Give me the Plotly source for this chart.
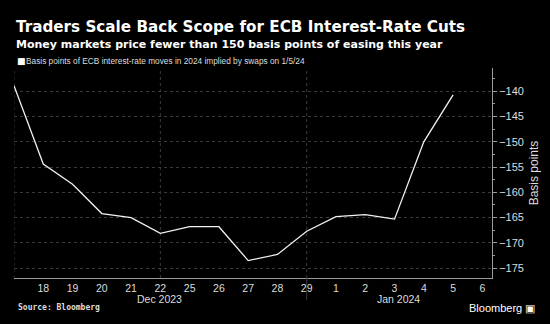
import plotly.graph_objects as go

dates = ["Dec 15", "Dec 18", "Dec 19", "Dec 20", "Dec 21", "Dec 22", "Dec 25", "Dec 26",
         "Dec 27", "Dec 28", "Dec 29", "Jan 1", "Jan 2", "Jan 3", "Jan 4", "Jan 5"]
values = [-138.9, -154.4, -158.4, -164.2, -165.0, -168.1, -166.8, -166.8,
          -173.5, -172.3, -167.7, -164.8, -164.4, -165.3, -150.0, -140.7]
tick_labels = ["18", "19", "20", "21", "22", "25", "26", "27", "28", "29", "1", "2", "3", "4", "5", "6"]
y_ticks = [-140, -145, -150, -155, -160, -165, -170, -175]

x_idx = list(range(len(dates)))
tick_pos = list(range(1, len(tick_labels) + 1))

fig = go.Figure()
fig.add_trace(go.Scatter(x=x_idx, y=values, mode="lines",
                         line=dict(color="#f2f2f2", width=1.3),
                         hoverinfo="skip", showlegend=False))

# vertical weekly gridlines
for xv in [0, 5, 10]:
    fig.add_shape(type="line", xref="x", yref="paper", x0=xv, x1=xv, y0=0, y1=1,
                  line=dict(color="#3a3a3a", width=1, dash="dot"), layer="below")
# month separator
fig.add_shape(type="line", xref="x", yref="paper", x0=10, x1=10, y0=0, y1=-0.105,
              line=dict(color="#3a3a3a", width=1))

fig.update_layout(
    width=550, height=324,
    margin=dict(l=14, r=48, t=68, b=46),
    paper_bgcolor="black", plot_bgcolor="black",
    font=dict(family="Liberation Sans Narrow, Liberation Sans, sans-serif", color="#dddddd", size=11),
    xaxis=dict(range=[0, 16.33], tickvals=tick_pos, ticktext=tick_labels,
               showgrid=False, zeroline=False, showline=True, linecolor="#9a9a9a", linewidth=1,
               ticks="", tickfont=dict(size=10.5, color="#dddddd"), fixedrange=True),
    yaxis=dict(range=[-176.95, -135.4], side="right", tickvals=y_ticks,
               showgrid=True, gridcolor="#3a3a3a", griddash="dot", gridwidth=1,
               zeroline=False, showline=True, linecolor="#9a9a9a", linewidth=1,
               ticks="outside", ticklen=4, tickcolor="#9a9a9a",
               minor=dict(dtick=2.5, ticks="outside", ticklen=2, tickcolor="#9a9a9a", showgrid=False),
               tickfont=dict(size=11, color="#dddddd"),
               title=dict(text="Basis points", font=dict(size=12, color="#dddddd"), standoff=6)),
)

ann = [
    dict(text="<b>Traders Scale Back Scope for ECB Interest-Rate Cuts</b>", x=14, y=27,
         font=dict(family="DejaVu Sans", size=15.2, color="white")),
    dict(text="<b>Money markets price fewer than 150 basis points of easing this year</b>", x=14, y=44,
         font=dict(family="DejaVu Sans", size=11, color="white")),
    dict(text="\u25a0", x=15, y=61,
         font=dict(family="DejaVu Sans", size=9, color="white")),
    dict(text="Basis points of ECB interest-rate moves in 2024 implied by swaps on 1/5/24", x=24, y=61,
         font=dict(family="Liberation Sans Narrow, Liberation Sans", size=8.3, color="#dddddd")),
    dict(text="<b>Source: Bloomberg</b>", x=16, y=308,
         font=dict(family="DejaVu Sans Mono", size=8, color="#dddddd")),
    dict(text="Bloomberg \u25a3", x=476, y=308,
         font=dict(family="Liberation Sans", size=11, color="white")),
]
for a in ann:
    fig.add_annotation(text=a["text"], xref="paper", yref="paper",
                       x=(a["x"] - 14) / 488, y=1 - (a["y"] - 68) / 210.3,
                       xanchor="left", yanchor="middle", showarrow=False, font=a["font"])

for label, xc in [("Dec 2023", 163), ("Jan 2024", 407)]:
    fig.add_annotation(text=label, xref="paper", yref="paper",
                       x=(xc - 14) / 488, y=1 - (299 - 68) / 210.3,
                       xanchor="center", yanchor="middle", showarrow=False,
                       font=dict(family="Liberation Sans Narrow, Liberation Sans", size=10.5, color="#dddddd"))

fig.write_html("out.html")
